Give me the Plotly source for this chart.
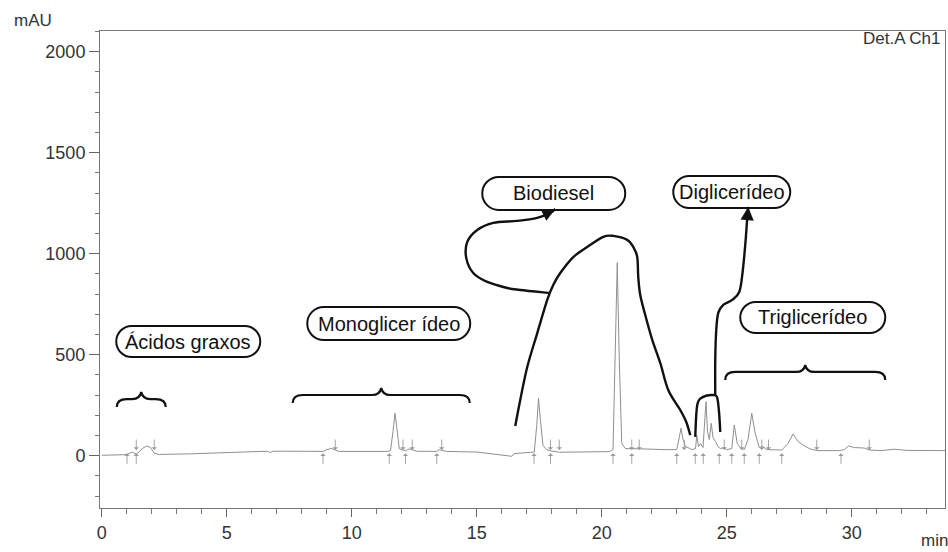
import plotly.graph_objects as go

# ---------------- data ----------------
time_min = [0.0, 0.9, 1.0, 1.2, 1.38, 1.5, 1.65, 1.8, 1.95, 2.1, 2.3, 3.5, 5.0, 6.0, 6.6, 6.75, 6.85,
            7.5, 8.5, 8.85, 9.0, 9.2, 9.34, 9.5, 11.4, 11.55, 11.65, 11.73, 11.8, 11.9, 12.05, 12.15,
            12.3, 12.42, 12.6, 13.4, 13.5, 13.6, 13.8, 15.0, 15.6, 16.2, 16.4, 16.5, 17.2, 17.3, 17.4,
            17.47, 17.55, 17.65, 17.8, 17.95, 18.3, 20.3, 20.45, 20.55, 20.62, 20.7, 20.8, 20.95, 21.2,
            21.5, 22.5, 23.0, 23.1, 23.17, 23.25, 23.35, 23.45, 23.6, 23.75, 23.8, 23.87, 23.95, 24.05,
            24.12, 24.17, 24.23, 24.3, 24.38, 24.45, 24.55, 24.65, 24.75, 24.9, 25.0, 25.2, 25.3, 25.42,
            25.55, 25.7, 25.85, 26.0, 26.12, 26.3, 26.45, 26.6, 27.2, 27.45, 27.65, 27.85, 28.05, 28.3,
            28.6, 29.5, 29.7, 29.87, 30.1, 30.5, 30.7, 31.2, 31.7, 32.2, 33.73]
signal_mau = [2, 4, 5, 18, 8, 20, 38, 48, 40, 12, 6, 9, 14, 20, 22, 16, 22,
              22, 20, 21, 30, 36, 28, 21, 21, 25, 120, 210, 140, 35, 28, 24,
              34, 28, 22, 21, 30, 26, 21, 18, 10, 0, -3, 10, 14, 18, 150,
              284, 170, 50, 30, 24, 17, 20, 30, 500, 955, 480, 60, 35, 36,
              34, 30, 30, 90, 136, 80, 45, 40, 30, 35, 100, 45, 60, 40,
              150, 267, 120, 80, 160, 90, 70, 45, 35, 40, 30, 35, 152, 60,
              40, 30, 80, 210, 120, 40, 45, 30, 28, 60, 107, 70, 53, 35,
              25, 25, 30, 48, 40, 38, 28, 25, 32, 26, 25]

# integration marks (peak start = up arrow, peak end = down arrow)
peak_start_min = [1.01, 1.38, 8.85, 11.5, 12.15, 13.4, 17.29, 17.95, 20.45, 21.2, 23.0, 23.74,
                  24.06, 24.7, 25.2, 25.7, 26.3, 27.2, 29.57]
peak_end_min = [1.38, 2.1, 9.34, 12.05, 12.42, 13.6, 17.95, 18.3, 21.2, 21.5, 23.3, 24.9, 25.6,
                26.4, 26.67, 28.6, 30.7]

x_ticks = [0, 5, 10, 15, 20, 25, 30]
y_ticks = [0, 500, 1000, 1500, 2000]

label_texts = ["Ácidos graxos", "Monoglicer ídeo", "Biodiesel", "Diglicerídeo", "Triglicerídeo"]

# ---------------- hand-drawn annotation geometry (data units) ----------------
label_pos = [(3.46, 565), (11.48, 654), (18.08, 1298), (25.2, 1305), (28.44, 684)]
label_box = [(144, 31), (163, 33), (143, 33), (117, 32), (145, 31)]  # pixel sizes

brace_tips = [(1.58, 315), (11.18, 335), (28.14, 449)]
brace_half = [24.5, 88.5, 80]

hump = [(16.54, 147), (16.74, 276), (17.02, 439), (17.42, 607), (17.82, 771), (18.06, 845),
        (18.34, 904), (18.86, 983), (19.42, 1033), (20.06, 1083), (20.46, 1088), (21.02, 1068),
        (21.26, 1033), (21.42, 983), (21.46, 885), (21.54, 795), (21.74, 696), (22.02, 573),
        (22.34, 459), (22.66, 325), (23.14, 226), (23.38, 167), (23.54, 102)]
bio_loop = [(17.94, 805), (16.74, 820), (16.22, 830), (15.42, 860), (14.86, 904), (14.58, 979),
            (14.62, 1058), (15.02, 1117), (15.66, 1152), (16.62, 1162), (17.42, 1177), (17.94, 1202),
            (18.14, 1221)]
di_bracket = [(23.74, 93), (23.82, 251), (24.06, 291), (24.46, 300), (24.62, 286), (24.70, 202),
              (24.74, 117)]
di_line = [(24.54, 300), (24.54, 474), (24.58, 622), (24.66, 707), (24.86, 746), (25.22, 771),
           (25.5, 810), (25.62, 894), (25.74, 1043), (25.82, 1177), (25.86, 1231)]

MARK_LEVEL = 20  # baseline level where the integration arrows touch


def smooth(pts):
    d = f"M {pts[0][0]:.3f},{pts[0][1]:.1f}"
    n = len(pts)
    for i in range(n - 1):
        p0 = pts[i - 1] if i > 0 else pts[i]
        p1 = pts[i]
        p2 = pts[i + 1]
        p3 = pts[i + 2] if i + 2 < n else p2
        c1 = (p1[0] + (p2[0] - p0[0]) / 6, p1[1] + (p2[1] - p0[1]) / 6)
        c2 = (p2[0] - (p3[0] - p1[0]) / 6, p2[1] - (p3[1] - p1[1]) / 6)
        d += (f" C {c1[0]:.3f},{c1[1]:.1f} {c2[0]:.3f},{c2[1]:.1f} "
              f"{p2[0]:.3f},{p2[1]:.1f}")
    return d


def stadium(w, h):
    r = h / 2
    a = w / 2 - r
    k = 0.5523 * r
    f = lambda v: f"{v:.2f}"
    return (f"M {f(-a)},{f(r)} L {f(a)},{f(r)} C {f(a+k)},{f(r)} {f(a+r)},{f(k)} {f(a+r)},0 "
            f"C {f(a+r)},{f(-k)} {f(a+k)},{f(-r)} {f(a)},{f(-r)} L {f(-a)},{f(-r)} "
            f"C {f(-a-k)},{f(-r)} {f(-a-r)},{f(-k)} {f(-a-r)},0 "
            f"C {f(-a-r)},{f(k)} {f(-a-k)},{f(r)} {f(-a)},{f(r)} Z")


def brace(W):
    return (f"M {-W},-15 C {-W},-10 {-W+3},-7 {-W+10},-7 L -9,-7 C -4,-7 -1,-5 0,0 "
            f"C 1,-5 4,-7 9,-7 L {W-10},-7 C {W-3},-7 {W},-10 {W},-15")


INK = "#111111"
fig = go.Figure()
fig.add_trace(go.Scatter(x=time_min, y=signal_mau, mode="lines",
                         line=dict(color="#8f8f8f", width=1), hoverinfo="skip", showlegend=False))

shapes = []
for (cx, cy), (w, h) in zip(label_pos, label_box):
    shapes.append(dict(type="path", xref="x", yref="y", xsizemode="pixel", ysizemode="pixel",
                       xanchor=cx, yanchor=cy, path=stadium(w, h),
                       line=dict(color=INK, width=2)))
for (tx, ty), W in zip(brace_tips, brace_half):
    shapes.append(dict(type="path", xref="x", yref="y", xsizemode="pixel", ysizemode="pixel",
                       xanchor=tx, yanchor=ty, path=brace(W),
                       line=dict(color=INK, width=2.2)))
for pts in (hump, bio_loop, di_bracket, di_line):
    shapes.append(dict(type="path", xref="x", yref="y", path=smooth(pts),
                       line=dict(color=INK, width=2.4)))

annotations = []
# integration arrows
for t in peak_start_min:
    annotations.append(dict(x=t, y=MARK_LEVEL - 8, xref="x", yref="y", text="", showarrow=True,
                            arrowhead=1, arrowsize=1, arrowwidth=0.9, arrowcolor="#9a9a9a",
                            ax=0, ay=12, standoff=0))
for t in peak_end_min:
    annotations.append(dict(x=t, y=MARK_LEVEL + 8, xref="x", yref="y", text="", showarrow=True,
                            arrowhead=1, arrowsize=1, arrowwidth=0.9, arrowcolor="#9a9a9a",
                            ax=0, ay=-12, standoff=0))
for (cx, cy), txt in zip(label_pos, label_texts):
    annotations.append(dict(x=cx, y=cy, xref="x", yref="y", text=txt, showarrow=False,
                            font=dict(family="Liberation Sans, Arial", size=20, color=INK),
                            xanchor="center", yanchor="middle"))
# arrow heads of the hand-drawn pointers
annotations.append(dict(x=bio_loop[-1][0], y=bio_loop[-1][1], xref="x", yref="y", text="",
                        showarrow=True, arrowhead=2, arrowsize=1.1, arrowwidth=2.4,
                        arrowcolor=INK, ax=-12, ay=6))
annotations.append(dict(x=di_line[-1][0], y=di_line[-1][1], xref="x", yref="y", text="",
                        showarrow=True, arrowhead=2, arrowsize=1.1, arrowwidth=2.4,
                        arrowcolor=INK, ax=-1, ay=12))
# axis units and detector label
annotations.append(dict(x=-0.104, y=1.023, xref="paper", yref="paper", text="mAU", showarrow=False,
                        xanchor="left", yanchor="middle",
                        font=dict(family="Liberation Sans, Arial", size=17, color="#333")))
annotations.append(dict(x=0.969, y=-0.069, xref="paper", yref="paper", text="min", showarrow=False,
                        xanchor="left", yanchor="middle",
                        font=dict(family="Liberation Sans, Arial", size=17, color="#333")))
annotations.append(dict(x=0.9976, y=0.985, xref="paper", yref="paper", text="Det.A Ch1",
                        showarrow=False, xanchor="right", yanchor="middle",
                        font=dict(family="Liberation Sans, Arial", size=17, color="#333")))

fig.update_layout(
    width=948, height=552,
    margin=dict(l=100, r=3, t=31, b=44),
    paper_bgcolor="white", plot_bgcolor="white",
    font=dict(family="Liberation Sans, Arial", color="#333"),
    shapes=shapes, annotations=annotations, showlegend=False,
    xaxis=dict(range=[-0.07, 33.73], tickvals=x_ticks, ticks="outside", ticklen=8,
               tickcolor="#666", showline=True, linecolor="#777", linewidth=1, mirror=True,
               showgrid=False, zeroline=False, tickfont=dict(size=18, color="#333"),
               minor=dict(dtick=1, tick0=0, ticks="outside", ticklen=5, tickcolor="#777")),
    yaxis=dict(range=[-259, 2102], tickvals=y_ticks, ticks="outside", ticklen=10,
               tickcolor="#666", showline=True, linecolor="#777", linewidth=1, mirror=True,
               showgrid=False, zeroline=False, tickfont=dict(size=18, color="#333"),
               minor=dict(dtick=100, tick0=0, ticks="outside", ticklen=4, tickcolor="#777")),
)

fig.write_html("out.html")
